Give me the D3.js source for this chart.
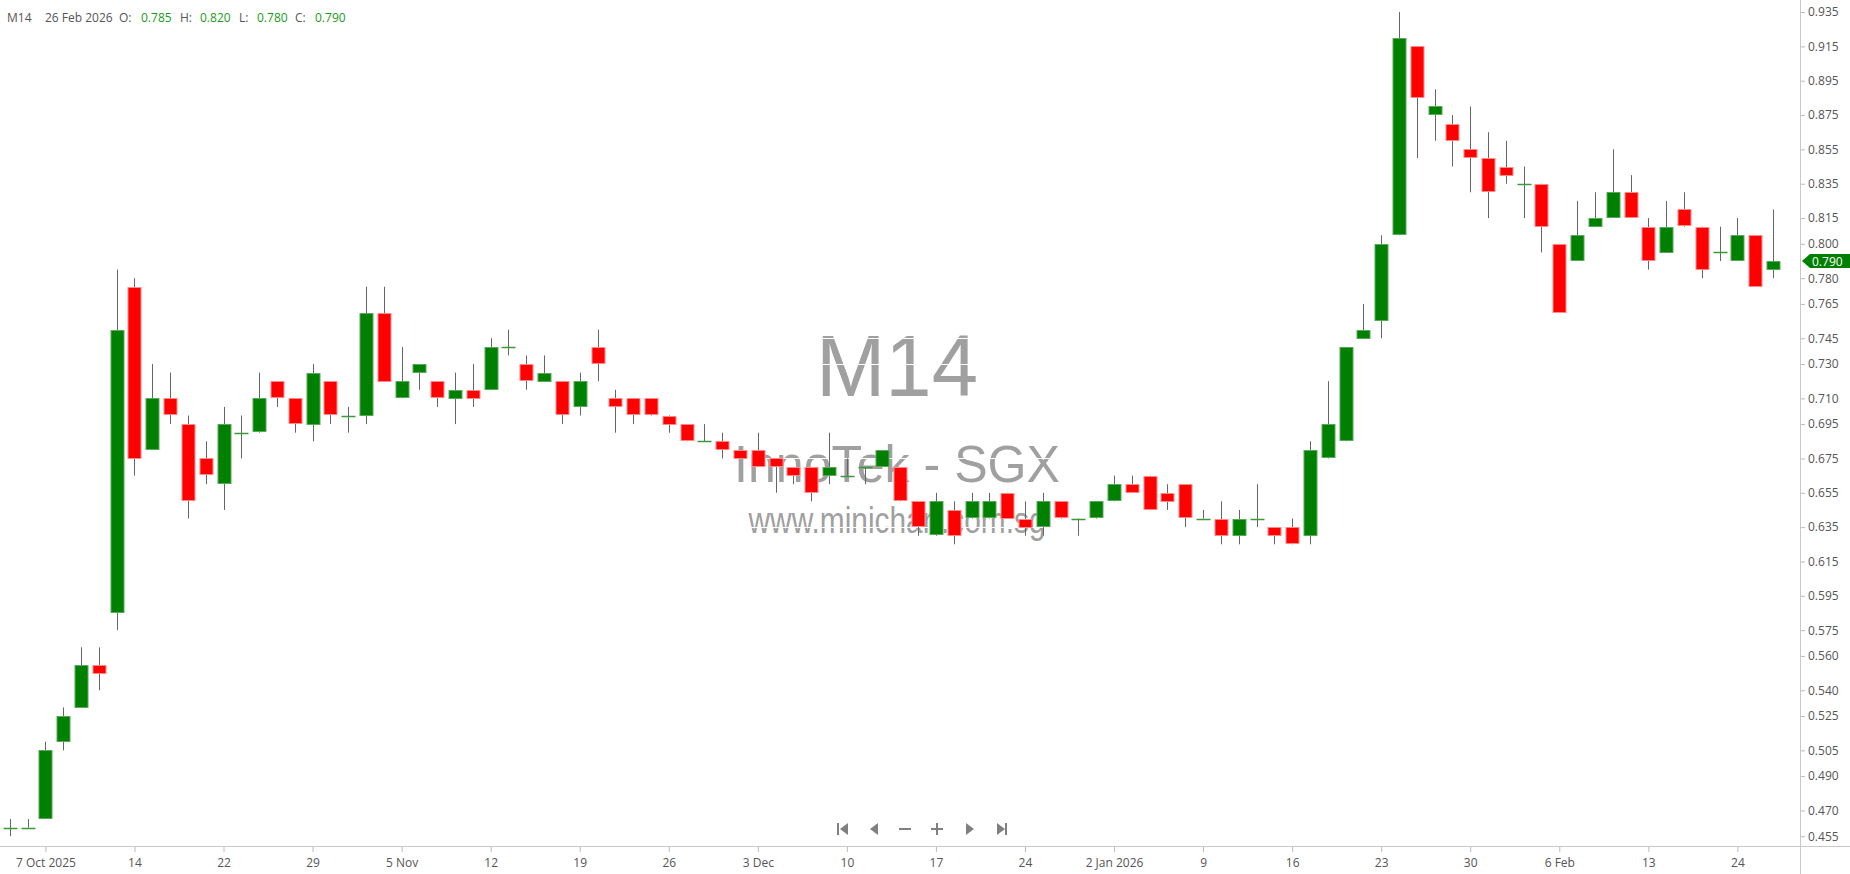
<!DOCTYPE html>
<html>
<head>
<meta charset="utf-8">
<script src="https://cdn.jsdelivr.net/npm/d3@7"></script>
<style>
  html, body { margin: 0; padding: 0; background: #fff; }
  svg { display: block; }
  .tick text { font-family: "Open Sans", "Noto Sans", sans-serif; font-size: 12px; fill: #555; }
  .tick line { stroke: #bbb; }
</style>
</head>
<body>
<div id="chart"></div>
<script>
const width = 1850;
const height = 874;
const plotBottom = 846;
const axisX = 1800;

// trading days shown on the chart
const dates = [
  '2025-10-03','2025-10-06','2025-10-07','2025-10-08','2025-10-09','2025-10-10','2025-10-13','2025-10-14','2025-10-15','2025-10-16',
  '2025-10-17','2025-10-21','2025-10-22','2025-10-23','2025-10-24','2025-10-27','2025-10-28','2025-10-29','2025-10-30','2025-10-31',
  '2025-11-03','2025-11-04','2025-11-05','2025-11-06','2025-11-07','2025-11-10','2025-11-11','2025-11-12','2025-11-13','2025-11-14',
  '2025-11-17','2025-11-18','2025-11-19','2025-11-20','2025-11-21','2025-11-24','2025-11-25','2025-11-26','2025-11-27','2025-11-28',
  '2025-12-01','2025-12-02','2025-12-03','2025-12-04','2025-12-05','2025-12-08','2025-12-09','2025-12-10','2025-12-11','2025-12-12',
  '2025-12-15','2025-12-16','2025-12-17','2025-12-18','2025-12-19','2025-12-22','2025-12-23','2025-12-24','2025-12-26','2025-12-29',
  '2025-12-30','2025-12-31','2026-01-02','2026-01-05','2026-01-06','2026-01-07','2026-01-08','2026-01-09','2026-01-12','2026-01-13',
  '2026-01-14','2026-01-15','2026-01-16','2026-01-19','2026-01-20','2026-01-21','2026-01-22','2026-01-23','2026-01-26','2026-01-27',
  '2026-01-28','2026-01-29','2026-01-30','2026-02-02','2026-02-03','2026-02-04','2026-02-05','2026-02-06','2026-02-09','2026-02-10',
  '2026-02-11','2026-02-12','2026-02-13','2026-02-16','2026-02-19','2026-02-20','2026-02-23','2026-02-24','2026-02-25','2026-02-26'
];

const opens = [
  .460,.460,.465,.510,.530,.555,.585,.775,.680,.710,
  .695,.675,.660,.690,.690,.720,.710,.695,.720,.700,
  .700,.760,.710,.725,.720,.710,.715,.715,.740,.730,
  .720,.720,.705,.740,.710,.710,.710,.700,.695,.685,
  .685,.680,.680,.675,.670,.670,.665,.665,.670,.670,
  .670,.650,.630,.645,.640,.640,.655,.640,.635,.650,
  .640,.640,.650,.660,.665,.655,.660,.640,.640,.630,
  .640,.635,.635,.630,.675,.685,.745,.755,.805,.915,
  .875,.870,.855,.850,.845,.835,.835,.800,.790,.810,
  .815,.830,.810,.795,.820,.810,.795,.790,.805,.785
];
const highs = [
  .465,.465,.510,.530,.565,.565,.785,.780,.730,.725,
  .700,.685,.705,.700,.725,.720,.710,.730,.720,.705,
  .775,.775,.740,.730,.720,.725,.730,.745,.750,.735,
  .735,.720,.725,.750,.715,.710,.710,.700,.695,.695,
  .690,.680,.690,.675,.670,.670,.690,.675,.670,.680,
  .670,.650,.655,.650,.655,.655,.655,.650,.655,.650,
  .640,.650,.665,.665,.665,.660,.660,.645,.650,.645,
  .660,.635,.640,.685,.720,.740,.765,.805,.935,.915,
  .890,.875,.880,.865,.860,.845,.835,.800,.825,.830,
  .855,.840,.815,.825,.830,.810,.810,.815,.805,.820
];
const lows = [
  .455,.460,.465,.505,.530,.540,.575,.665,.680,.695,
  .640,.660,.645,.675,.690,.705,.690,.685,.695,.690,
  .695,.720,.710,.715,.705,.695,.705,.715,.735,.715,
  .720,.695,.700,.720,.690,.695,.700,.690,.685,.685,
  .675,.675,.670,.655,.660,.650,.660,.665,.660,.670,
  .650,.630,.630,.625,.640,.640,.640,.630,.630,.640,
  .630,.640,.650,.655,.645,.645,.635,.640,.625,.625,
  .635,.625,.625,.625,.675,.685,.745,.745,.805,.850,
  .860,.845,.830,.815,.835,.815,.795,.760,.790,.810,
  .815,.815,.785,.795,.810,.780,.790,.790,.775,.780
];
const closes = [
  .460,.460,.505,.525,.555,.550,.750,.675,.710,.700,
  .650,.665,.695,.690,.710,.710,.695,.725,.700,.700,
  .760,.720,.720,.730,.710,.715,.710,.740,.740,.720,
  .725,.700,.720,.730,.705,.700,.700,.695,.685,.685,
  .680,.675,.670,.670,.665,.655,.670,.665,.670,.680,
  .650,.635,.650,.630,.650,.650,.640,.635,.650,.640,
  .640,.650,.660,.655,.645,.650,.640,.640,.630,.640,
  .640,.630,.625,.680,.695,.740,.750,.800,.920,.885,
  .880,.860,.850,.830,.840,.835,.810,.760,.805,.815,
  .830,.815,.790,.810,.810,.785,.795,.805,.775,.790
];

const yTicks = [0.935,0.915,0.895,0.875,0.855,0.835,0.815,0.800,0.780,0.765,0.745,0.730,0.710,0.695,
  0.675,0.655,0.635,0.615,0.595,0.575,0.560,0.540,0.525,0.505,0.490,0.470,0.455];

const tickDates = ['2025-10-07','2025-10-14','2025-10-22','2025-10-29','2025-11-05','2025-11-12','2025-11-19',
  '2025-11-26','2025-12-03','2025-12-10','2025-12-17','2025-12-24','2026-01-02','2026-01-09','2026-01-16',
  '2026-01-23','2026-01-30','2026-02-06','2026-02-13','2026-02-24'];
const tickLabels = ['7 Oct 2025','14','22','29','5 Nov','12','19','26','3 Dec','10','17','24','2 Jan 2026',
  '9','16','23','30','6 Feb','13','24'];

const bars = dates.map((d, i) => ({date: d, o: opens[i], h: highs[i], l: lows[i], c: closes[i]}));
const last = bars[bars.length - 1];

const upColor = '#008000';
const downColor = '#ff0000';

var svg = d3.select('#chart')
  .append('svg')
  .attr('width', width)
  .attr('height', height);

var x = d3.scalePoint()
  .domain(dates)
  .range([9.8, 1773]);

var y = d3.scaleLinear()
  .domain([0.4493, 0.942])
  .range([plotBottom, 0]);

const bw = Math.round(x.step() * 0.74);
const cx = d => Math.round(x(d)) + 0.5;

// watermark
{
  const wm = svg.append('g')
    .attr('fill', '#a0a0a0')
    .attr('font-family', '"Liberation Sans", Arial, sans-serif')
    .attr('text-anchor', 'middle');
  wm.append('text').attr('x', 897).attr('y', 396)
    .attr('font-size', 88).attr('textLength', 162).attr('lengthAdjust', 'spacingAndGlyphs').text('M14');
  wm.append('text').attr('x', 897).attr('y', 482)
    .attr('font-size', 52).attr('textLength', 326).attr('lengthAdjust', 'spacingAndGlyphs').text('InnoTek - SGX');
  wm.append('text').attr('x', 897).attr('y', 533)
    .attr('font-size', 37).attr('textLength', 297).attr('lengthAdjust', 'spacingAndGlyphs').text('www.minichart.com.sg');
}

// white grid lines (only show across the watermark)
svg.append('g')
  .selectAll('line')
  .data(yTicks)
  .join('line')
    .attr('x1', 0).attr('x2', axisX)
    .attr('y1', d => Math.round(y(d)) + 0.5)
    .attr('y2', d => Math.round(y(d)) + 0.5)
    .attr('stroke', '#fff');

// axes lines
svg.append('line')
  .attr('x1', axisX + 0.5).attr('x2', axisX + 0.5)
  .attr('y1', 0).attr('y2', height)
  .attr('stroke', '#c8c8c8');
svg.append('line')
  .attr('x1', 0).attr('x2', width)
  .attr('y1', plotBottom + 0.5).attr('y2', plotBottom + 0.5)
  .attr('stroke', '#c8c8c8');

var y_axis = d3.axisRight(y)
  .tickValues(yTicks)
  .tickSize(4)
  .tickPadding(3)
  .tickFormat(d3.format('.3f'));
svg.append('g')
  .attr('transform', 'translate(' + (axisX + 1) + ',0)')
  .call(y_axis)
  .call(g => g.select('.domain').remove());

var x_axis = d3.axisBottom(x)
  .tickValues(tickDates)
  .tickSize(5)
  .tickPadding(6)
  .tickFormat((d, i) => tickLabels[i]);
svg.append('g')
  .attr('transform', 'translate(0,' + (plotBottom + 1) + ')')
  .call(x_axis)
  .call(g => g.select('.domain').remove());

// candles
var candles = svg.append('g').attr('class', 'candles');

candles.selectAll('line.wick')
  .data(bars)
  .join('line')
    .attr('class', 'wick')
    .attr('x1', d => cx(d.date)).attr('x2', d => cx(d.date))
    .attr('y1', d => y(d.h)).attr('y2', d => y(d.l))
    .attr('stroke', '#666')
    .attr('stroke-width', 1);

candles.selectAll('rect.body')
  .data(bars.filter(d => d.o !== d.c))
  .join('rect')
    .attr('class', 'body')
    .attr('x', d => cx(d.date) - bw / 2)
    .attr('y', d => Math.round(y(Math.max(d.o, d.c))) + 0.5)
    .attr('width', bw)
    .attr('height', d => Math.max(1, Math.round(Math.abs(y(d.o) - y(d.c))) - 1))
    .attr('fill', d => d.c > d.o ? upColor : downColor)
    .attr('stroke', d => d.c > d.o ? '#5aa95a' : '#ff8a8a')
    .attr('stroke-width', 1);

candles.selectAll('line.doji')
  .data(bars.filter(d => d.o === d.c))
  .join('line')
    .attr('class', 'doji')
    .attr('x1', d => cx(d.date) - bw / 2 - 0.5).attr('x2', d => cx(d.date) + bw / 2 + 0.5)
    .attr('y1', d => Math.round(y(d.c)) + 0.5).attr('y2', d => Math.round(y(d.c)) + 0.5)
    .attr('stroke', '#3a9a3a')
    .attr('stroke-width', 1.5);

// last price marker
{
  const py = Math.round(y(last.c));
  svg.append('path')
    .attr('d', `M${axisX + 2},${py} L${axisX + 10},${py - 7} L${width},${py - 7} L${width},${py + 7} L${axisX + 10},${py + 7} Z`)
    .attr('fill', upColor);
  svg.append('text')
    .attr('x', axisX + 12).attr('y', py + 4.5)
    .attr('fill', '#fff')
    .attr('font-family', '"Open Sans", sans-serif')
    .attr('font-size', 12)
    .text(d3.format('.3f')(last.c));
}

// header
{
  const fmt = d3.format('.3f');
  const dt = d3.timeFormat('%-d %b %Y')(d3.timeParse('%Y-%m-%d')(last.date));
  const parts = [
    {x: 7, t: 'M14', c: '#555'},
    {x: 45, t: dt, c: '#555'},
    {x: 119, t: 'O:', c: '#555'},
    {x: 141, t: fmt(last.o), c: '#1a9a1a'},
    {x: 180, t: 'H:', c: '#555'},
    {x: 200, t: fmt(last.h), c: '#1a9a1a'},
    {x: 239, t: 'L:', c: '#555'},
    {x: 257, t: fmt(last.l), c: '#1a9a1a'},
    {x: 295, t: 'C:', c: '#555'},
    {x: 315, t: fmt(last.c), c: '#1a9a1a'}
  ];
  svg.append('g')
    .selectAll('text')
    .data(parts)
    .join('text')
      .attr('x', d => d.x).attr('y', 22)
      .attr('font-family', '"Open Sans", "Noto Sans", sans-serif')
      .attr('font-size', 12)
      .attr('fill', d => d.c)
      .text(d => d.t);
}

// navigation buttons
{
  const nav = svg.append('g').attr('fill', '#808080').attr('transform', 'translate(0,829)');
  nav.append('path').attr('d', 'M837,-6 h2 v12 h-2 Z M848,-6 v12 l-8,-6 Z');
  nav.append('path').attr('d', 'M878,-6 v12 l-8,-6 Z');
  nav.append('rect').attr('x', 899).attr('y', -1).attr('width', 12).attr('height', 2);
  nav.append('path').attr('d', 'M931,-1 h12 v2 h-12 Z M936,-6 h2 v12 h-2 Z');
  nav.append('path').attr('d', 'M966,-6 v12 l8,-6 Z');
  nav.append('path').attr('d', 'M997,-6 v12 l8,-6 Z M1005,-6 h2 v12 h-2 Z');
}
</script>
</body>
</html>
